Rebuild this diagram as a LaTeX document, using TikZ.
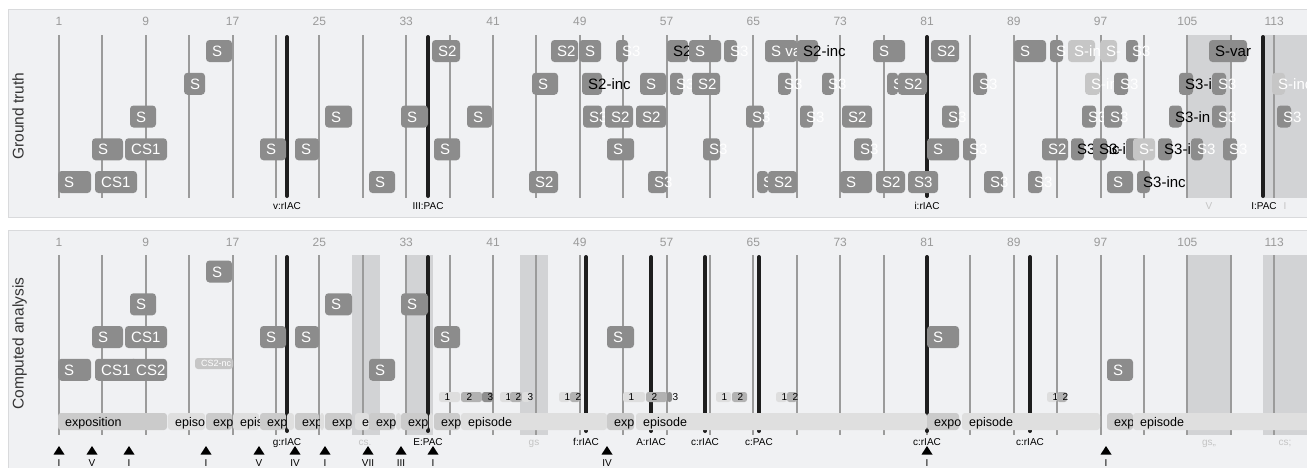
\documentclass[tikz,border=0pt]{standalone}
\usepackage{fontspec}
\setmainfont{Liberation Sans}
\usepackage{tikz}
\usetikzlibrary{positioning}
\definecolor{panelbg}{HTML}{F0F1F3}
\definecolor{panelrule}{HTML}{D9DADC}
\definecolor{gridgrey}{HTML}{9B9B9B}
\definecolor{boxdark}{HTML}{8C8C8C}
\definecolor{boxlight}{HTML}{C6C6C6}
\definecolor{shadegrey}{HTML}{D2D3D5}
\definecolor{expgrey}{HTML}{CBCBCB}
\definecolor{epigrey}{HTML}{DFDFDF}
\definecolor{motifa}{HTML}{DEDEDE}
\definecolor{motifb}{HTML}{B2B2B2}
\definecolor{motifc}{HTML}{8E8E8E}
\definecolor{cadblack}{HTML}{1E1E1E}
\definecolor{numgrey}{HTML}{9A9A9A}
\definecolor{faintgrey}{HTML}{C4C4C4}
\definecolor{titlegrey}{HTML}{333333}

\begin{document}
\begin{tikzpicture}[x=1pt, y=-1pt, every node/.style={inner sep=0pt},
  boxlabel/.style={anchor=base west, font=\fontsize{15}{17}\selectfont},
  eplabel/.style={anchor=base west, font=\fontsize{12.5}{14}\selectfont},
  motiflabel/.style={anchor=base west, font=\fontsize{10}{12}\selectfont},
  cadlabel/.style={anchor=base, font=\fontsize{10}{12}\selectfont},
  faintlabel/.style={anchor=base, text=faintgrey, font=\fontsize{10}{12}\selectfont},
  numlabel/.style={anchor=base, text=numgrey, font=\fontsize{12}{14}\selectfont},
  titlelabel/.style={anchor=base, rotate=90, text=titlegrey, font=\fontsize{15.5}{18}\selectfont},
  gridline/.style={gridgrey, line width=2pt},
  cadline/.style={cadblack, line width=4pt, line cap=round},
  panel/.style={draw=panelrule, fill=panelbg, line width=0.8pt}]
  \def\gx{59}
  \def\gstep{43.4}
  \def\dy{32.75}
  \def\hb{11}
  \useasboundingbox (0,0) rectangle (1307,467);
  \fill[white] (0,0) rectangle (1307,467);
  \draw[panel] (8,9) rectangle (1320,217);
  \draw[panel] (8,230) rectangle (1320,480);
  \node[titlelabel] (gt) at (23.5,116) {Ground truth};
  \node[titlelabel] (ca) at (23.5,343.5) {Computed analysis};
  \foreach \n [count=\k from 0] in {1,9,...,113} {
    \pgfmathsetmacro{\xx}{\gx+\k*2*\gstep}
    \node[numlabel] (nt-\n) at (\xx,25.3) {\n};
    \node[numlabel] (nb-\n) at (\xx,246.3) {\n};
  }
  \foreach \a/\b in {1187/1231, 1263/1320}
    \fill[shadegrey] (\a,35) rectangle (\b,198);
  \foreach \a/\b in {352/380, 405/433, 520/548, 1187/1231, 1263/1320}
    \fill[shadegrey] (\a,255) rectangle (\b,435);
  \foreach \k in {0,...,28} {
    \pgfmathsetmacro{\xx}{\gx+\k*\gstep}
    \draw[gridline] (\xx,35) -- (\xx,198);
    \draw[gridline] (\xx,255) -- (\xx,435);
  }
  \foreach \x in {287, 428, 927, 1263}
    \draw[cadline] (\x,37) -- (\x,196);
  \foreach \x in {287, 428, 586, 651, 705, 759, 927, 1030}
    \draw[cadline] (\x,257) -- (\x,431);
  % ground truth
  \foreach \r/\a/\b/\t/\fc/\tc in {
      1/206/232/S/boxdark/white, 1/432/460/S2/boxdark/white,
      1/551/578/S2/boxdark/white, 1/579/601/S/boxdark/white,
      1/616/628/S3/boxdark/white, 1/667/688/S2/boxdark/black,
      1/689/721/S/boxdark/white, 1/724/737/S3/boxdark/white,
      1/765/797/S va/boxdark/white, 1/797/818/S2-inc/boxdark/black,
      1/873/905/S/boxdark/white, 1/931/959/S2/boxdark/white,
      1/1014/1046/S/boxdark/white, 1/1050/1063/S/boxdark/white,
      1/1068/1095/S-in/boxlight/white, 1/1100/1117/S-/boxlight/white,
      1/1126/1138/S3/boxdark/white, 1/1209/1247/S-var/boxdark/black,
      2/184/205/S/boxdark/white, 2/532/558/S/boxdark/white,
      2/582/602/S2-inc/boxdark/black, 2/640/666/S/boxdark/white,
      2/670/683/S3/boxdark/white, 2/692/720/S2/boxdark/white,
      2/778/791/S3/boxdark/white, 2/822/834/S3/boxdark/white,
      2/887/898/S/boxdark/white, 2/898/927/S2/boxdark/white,
      2/973/987/S3/boxdark/white, 2/1085/1100/S-in/boxlight/white,
      2/1114/1128/S3/boxdark/white, 2/1179/1193/S3-i/boxdark/black,
      2/1212/1226/S3/boxdark/white, 2/1272/1285/S-inc/boxlight/white,
      3/130/156/S/boxdark/white, 3/325/352/S/boxdark/white,
      3/401/428/S/boxdark/white, 3/467/492/S/boxdark/white,
      3/583/602/S3/boxdark/white, 3/605/633/S2/boxdark/white,
      3/636/666/S2/boxdark/white, 3/746/764/S3/boxdark/white,
      3/800/813/S3/boxdark/white, 3/842/872/S2/boxdark/white,
      3/942/959/S3/boxdark/white, 3/1082/1096/S3/boxdark/white,
      3/1104/1122/S3/boxdark/white, 3/1169/1182/S3-in/boxdark/black,
      3/1212/1226/S3/boxdark/white, 3/1277/1291/S3/boxdark/white,
      4/92/123/S/boxdark/white, 4/125/167/CS1/boxdark/white,
      4/260/286/S/boxdark/white, 4/295/319/S/boxdark/white,
      4/434/460/S/boxdark/white, 4/607/634/S/boxdark/white,
      4/703/720/S3/boxdark/white, 4/854/872/S3/boxdark/white,
      4/927/959/S/boxdark/white, 4/963/976/S3/boxdark/white,
      4/1042/1068/S2/boxdark/white, 4/1071/1084/S3-inc/boxdark/black,
      4/1093/1107/S3-i/boxdark/black, 4/1126/1140/{}/boxdark/white,
      4/1133/1155/S-/boxlight/white, 4/1158/1172/S3-i/boxdark/black,
      4/1191/1203/S3/boxdark/white, 4/1223/1237/S3/boxdark/white,
      5/58/91/S/boxdark/white, 5/95/137/CS1/boxdark/white,
      5/369/395/S/boxdark/white, 5/529/558/S2/boxdark/white,
      5/648/667/S3/boxdark/white, 5/757/768/S/boxdark/white,
      5/768/797/S2/boxdark/white, 5/840/872/S/boxdark/white,
      5/876/905/S2/boxdark/white, 5/908/938/S3/boxdark/white,
      5/984/1003/S3/boxdark/white, 5/1028/1042/S3/boxdark/white,
      5/1107/1133/S/boxdark/white, 5/1137/1150/S3-inc/boxdark/black}
  {
    \pgfmathsetmacro{\yy}{51+(\r-1)*\dy}
    \fill[\fc, rounded corners=3.5pt] (\a,\yy-\hb) rectangle (\b,\yy+\hb);
    \node[boxlabel, text=\tc] (gt-\r-\a) at (\a+6,\yy+5.5) {\t};
  }
  % computed analysis
  \foreach \r/\a/\b/\t in {
      1/206/232/S, 2/130/156/S, 2/325/352/S, 2/401/428/S,
      3/92/123/S, 3/125/167/CS1, 3/260/286/S, 3/295/319/S,
      3/434/460/S, 3/607/634/S, 3/927/959/S,
      4/58/91/S, 4/95/137/CS1, 4/130/167/CS2, 4/369/395/S, 4/1107/1133/S}
  {
    \pgfmathsetmacro{\yy}{271.5+(\r-1)*\dy}
    \fill[boxdark, rounded corners=3.5pt] (\a,\yy-\hb) rectangle (\b,\yy+\hb);
    \node[boxlabel, text=white] (ca-\r-\a) at (\a+6,\yy+5.5) {\t};
  }
  \fill[boxlight, rounded corners=3pt] (195,358) rectangle (233,369);
  \node[anchor=base west, text=white, font=\fontsize{9}{11}\selectfont] (csnc) at (201,366.5) {CS2-nc};
  \foreach \a/\b/\t/\fc in {
      439/460/1/motifa, 461/482/2/motifb, 482/493/3/motifc,
      500/512/1/motifa, 510/522/2/motifb, 522/530/3/motifa,
      559/570/1/motifa, 570/580/2/motifb,
      623/645/1/motifa, 646/667/2/motifb, 667/672/3/motifc,
      716/731/1/motifa, 732/747/2/motifb,
      776/787/1/motifa, 787/797/2/motifb,
      1047/1057/1/motifa, 1057/1067/2/motifb}
  {
    \fill[\fc, rounded corners=2.5pt] (\a,392) rectangle (\b,402);
    \node[motiflabel] (mo-\a) at (\a+5.5,400.6) {\t};
  }
  \foreach \a/\b/\t/\fc in {
      58/167/exposition/expgrey, 168/205/episo/epigrey,
      206/232/exp/expgrey, 233/259/epis/epigrey,
      260/286/exp/expgrey, 287/294/{}/epigrey,
      295/319/exp/expgrey, 320/324/{}/epigrey,
      325/352/exp/expgrey, 355/369/ep/epigrey,
      369/395/exp/expgrey, 396/401/{}/epigrey,
      401/428/exp/expgrey, 429/433/{}/epigrey,
      434/460/exp/expgrey, 461/607/episode/epigrey,
      607/634/exp/expgrey, 636/927/episode/epigrey,
      927/959/expo/expgrey, 962/1100/episode/epigrey,
      1107/1133/exp/expgrey, 1133/1320/episode/epigrey}
  {
    \fill[\fc, rounded corners=3pt] (\a,413) rectangle (\b,430);
    \node[eplabel] (ep-\a) at (\a+7,426) {\t};
  }
  % cadence and key labels
  \foreach \x/\t in {287/v:rIAC, 428/III:PAC, 927/i:rIAC, 1264/I:PAC}
    \node[cadlabel] (kt-\x) at (\x,209) {\t};
  \foreach \x/\t in {1209/V, 1285/I}
    \node[faintlabel] (ft-\x) at (\x,209) {\t};
  \foreach \x/\t in {287/g:rIAC, 428/E:PAC, 586/f:rIAC, 651/A:rIAC,
      705/c:rIAC, 759/c:PAC, 927/c:rIAC, 1030/c:rIAC}
    \node[cadlabel] (kb-\x) at (\x,445.6) {\t};
  \foreach \x/\t in {365/cs., 534/gs, 1209/{gs,,}, 1285/cs;}
    \node[faintlabel] (fb-\x) at (\x,445.6) {\t};
  \foreach \x/\t in {59/I, 92/V, 129/I, 206/I, 259/V, 295/IV, 325/I,
      368/VII, 401/III, 433/I, 607/IV, 927/I, 1106/I}
  {
    \fill[black] (\x-5.5,454.5) -- (\x+5.5,454.5) -- (\x,446) -- cycle;
    \node[anchor=north, font=\fontsize{10}{12}\selectfont] (rn-\x) at (\x,459) {\t};
  }
\end{tikzpicture}
\end{document}
